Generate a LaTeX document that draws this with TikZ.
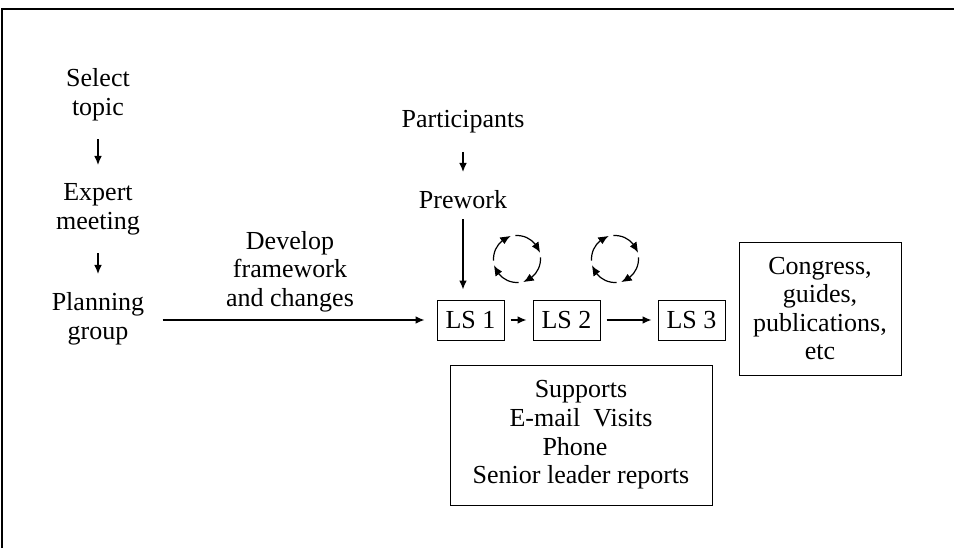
\documentclass[tikz,border=0pt]{standalone}
\usepackage{fontspec}
\setmainfont{Liberation Serif}
\usepackage{tikz}
\usetikzlibrary{arrows.meta,bending,positioning,calc}

\begin{document}
\begin{tikzpicture}[x=0.5pt, y=0.5pt,
    every node/.style={font=\fontsize{13}{14.3}\selectfont},
    lbl/.style={align=center, inner sep=9pt},
    box/.style={rectangle, draw, line width=0.5pt, align=center, inner sep=0pt},
    lsbox/.style={box, minimum width=33.5pt, minimum height=20pt},
    arr/.style={-{Latex[length=4.5pt,width=3.8pt]}, line width=0.6pt},
    cyc/.style={-{Latex[length=5pt,width=4.2pt,bend]}, line width=0.6pt}]

    \useasboundingbox (0,0) rectangle (954,548);
    % frame (only top and left edges show)
    \draw[line width=0.8pt] (2,0) -- (2,539) -- (954,539);

    % planning column
    \node[lbl] (select) at (98,453) {Select\\topic};
    \node[lbl] (expert) at (98,339) {Expert\\meeting};
    \node[lbl] (plan) at (98,229.5) {Planning\\group};
    \draw[arr] (select) -- (expert);
    \draw[arr] (expert) -- (plan);

    % learning sessions
    \foreach \n/\x in {1/470.5, 2/566.5, 3/691.5} {
        \node[lsbox] (ls\n) at (\x,228) {LS \n};
    }
    \draw[arr, shorten <=3pt, shorten >=3pt] (ls1) -- (ls2);
    \draw[arr, shorten <=3pt, shorten >=3pt] (ls2) -- (ls3);

    \node[lbl] (dev) at (290,276.5) {Develop\\framework\\and changes};
    \draw[arr, shorten >=6pt] (plan.east |- ls1.west) -- (ls1.west);

    \node[lbl] (part) at (463,426) {Participants};
    \node[lbl] (pre) at (463,348.5) {Prework};
    \draw[arr] (part) -- (pre);
    \draw[arr, shorten <=5.5pt, shorten >=5pt] (pre.base) -- (pre.base |- ls1.north);

    % improvement cycles
    \foreach \c/\x in {1/517, 2/615} {
        \coordinate (cyc\c) at (\x,289);
        \foreach \a in {0,90,180,270}
            \draw[cyc] ($(cyc\c)+(\a+94:23.5)$) arc[start angle=\a+94, end angle=\a+15, radius=23.5];
    }

    \node[box, minimum width=131pt, minimum height=70pt] (sup) at (581,113)
        {Supports\\E-mail\ \ Visits\\Phone\rule{6pt}{0pt}\\Senior leader reports};
    \node[box, minimum width=81pt, minimum height=66.5pt] (cong) at (820,239.5)
        {Congress,\\guides,\\publications,\\etc};
\end{tikzpicture}
\end{document}
